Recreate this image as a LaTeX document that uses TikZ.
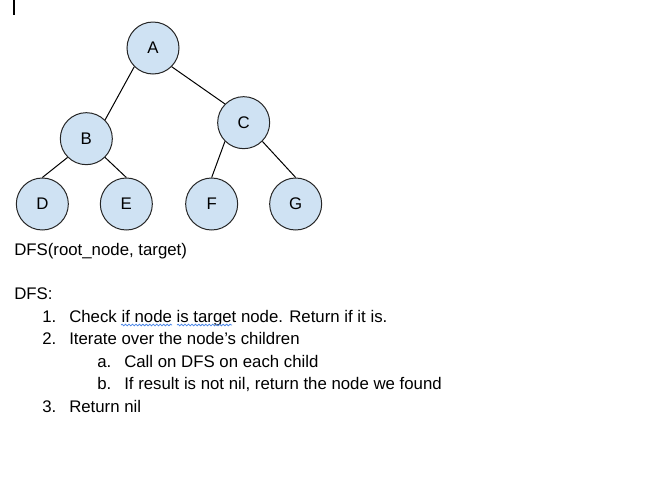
\documentclass[tikz,border=0pt]{standalone}
\usepackage{fontspec}
\setmainfont{Liberation Sans}
\usepackage{tikz}
\usetikzlibrary{positioning,decorations.pathmorphing}
\definecolor{treeblue}{HTML}{CFE2F3}
\definecolor{spellblue}{HTML}{4A86E8}

\begin{document}
\begin{tikzpicture}[
    x=0.75pt, y=-0.75pt,
    node distance=49pt,
    font=\fontsize{12.6}{15}\selectfont,
    vertex/.style={
		circle,
		draw=black!85,
		line width=0.75pt,
		fill=treeblue,
		minimum size=39pt,
		inner sep=0pt
	},
	line/.style={
		text=black,
		anchor=base west,
		inner sep=0pt
	}
  ]
    \useasboundingbox (0,0) rectangle (658,486);
    % cursor mark top left
    \draw [line width=1.1pt] (14,0) -- (14,15);

    % We start by placing the tree
  \node [vertex] (A) at (153,48) {A};
  \node [vertex, below of=A, xshift=-50pt, yshift=-19pt] (B) {B};
  \node [vertex, below of=A, xshift=68pt, yshift=-7pt] (C) {C};
  \node [vertex, below of=B, xshift=-33pt] (D) {D};
  \node [vertex, below of=B, xshift=30pt] (E) {E};
  \node [vertex, below of=C, xshift=-24pt, yshift=-12pt] (F) {F};
  \node [vertex, below of=C, xshift=39pt, yshift=-12pt] (G) {G};

 \draw [line width=0.75pt] (A.225) -- (B.45);
 \draw [line width=0.75pt] (A.-45) -- (C.135);
 \draw [line width=0.75pt] (B.225) -- (D.north);
 \draw [line width=0.75pt] (B.-45) -- (E.north);
 \draw [line width=0.75pt] (C.225) -- (F.north);
 \draw [line width=0.75pt] (C.-45) -- (G.north);

 % the text below
 \node [line] (call) at (14,255) {DFS(root\_node, target)};
 \node [line] (dfs) at (14,299) {DFS:};
 \node [line] (n1) at (42,322) {1.};
 \node [line] (t1) at (69,322) {Check if node is target node. Return if it is.};
 \node [line] (n2) at (42,344) {2.};
 \node [line] (t2) at (69,344) {Iterate over the node’s children};
 \node [line] (na) at (97,367) {a.};
 \node [line] (ta) at (124,367) {Call on DFS on each child};
 \node [line] (nb) at (97,389) {b.};
 \node [line] (tb) at (124,389) {If result is not nil, return the node we found};
 \node [line] (n3) at (42,412) {3.};
 \node [line] (t3) at (69,412) {Return nil};

 % spell check marks
 \draw [spellblue, line width=0.6pt, decorate, decoration={snake, amplitude=0.6pt, segment length=2.6pt}] (121,325) -- (172,325);
 \draw [spellblue, line width=0.6pt, decorate, decoration={snake, amplitude=0.6pt, segment length=2.6pt}] (177,325) -- (232,325);
\end{tikzpicture}
\end{document}
